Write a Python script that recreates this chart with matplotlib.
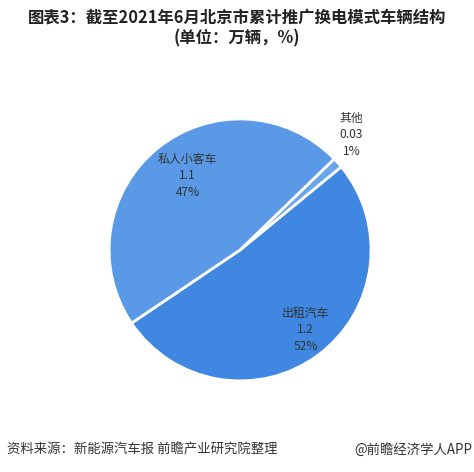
import matplotlib
matplotlib.use('Agg')
import matplotlib.pyplot as plt

plt.rcParams['font.family'] = ['Noto Sans CJK SC', 'DejaVu Sans']

# data
categories = ['出租汽车', '其他', '私人小客车']
values = [1.2, 0.03, 1.1]
pct_labels = ['52%', '1%', '47%']
value_labels = ['1.2', '0.03', '1.1']
colors = ['#3f87e0', '#6aa6ec', '#5a99e6']

fig = plt.figure(figsize=(4.74, 4.72), dpi=100)
ax = fig.add_axes([0.230, 0.193, 0.553, 0.555])

ax.pie(values, colors=colors, startangle=214, counterclock=True,
       wedgeprops=dict(edgecolor='white', linewidth=2), radius=1)
ax.set_xlim(-1, 1)
ax.set_ylim(-1, 1)
ax.set_aspect('equal')

# label positions (data coords, middle line)
label_pos = [(0.50, -0.61), (0.85, 0.88), (-0.40, 0.565)]
for cat, v, p, (x, y) in zip(categories, value_labels, pct_labels, label_pos):
    ax.text(x, y, cat + '\n' + v + '\n' + p, ha='center', va='center',
            fontsize=8.6, color='#333333', linespacing=1.35)

fig.text(0.5, 0.962, '图表3：截至2021年6月北京市累计推广换电模式车辆结构',
         ha='center', va='center', fontsize=11.8, fontweight='bold', color='#222222')
fig.text(0.5, 0.918, '(单位：万辆，%)',
         ha='center', va='center', fontsize=11.8, fontweight='bold', color='#222222')

fig.text(0.015, 0.047, '资料来源：新能源汽车报 前瞻产业研究院整理',
         ha='left', va='center', fontsize=9.6, color='#333333')
fig.text(0.997, 0.047, '@前瞻经济学人APP',
         ha='right', va='center', fontsize=9.6, color='#333333')

fig.savefig('out.png', dpi=100)
